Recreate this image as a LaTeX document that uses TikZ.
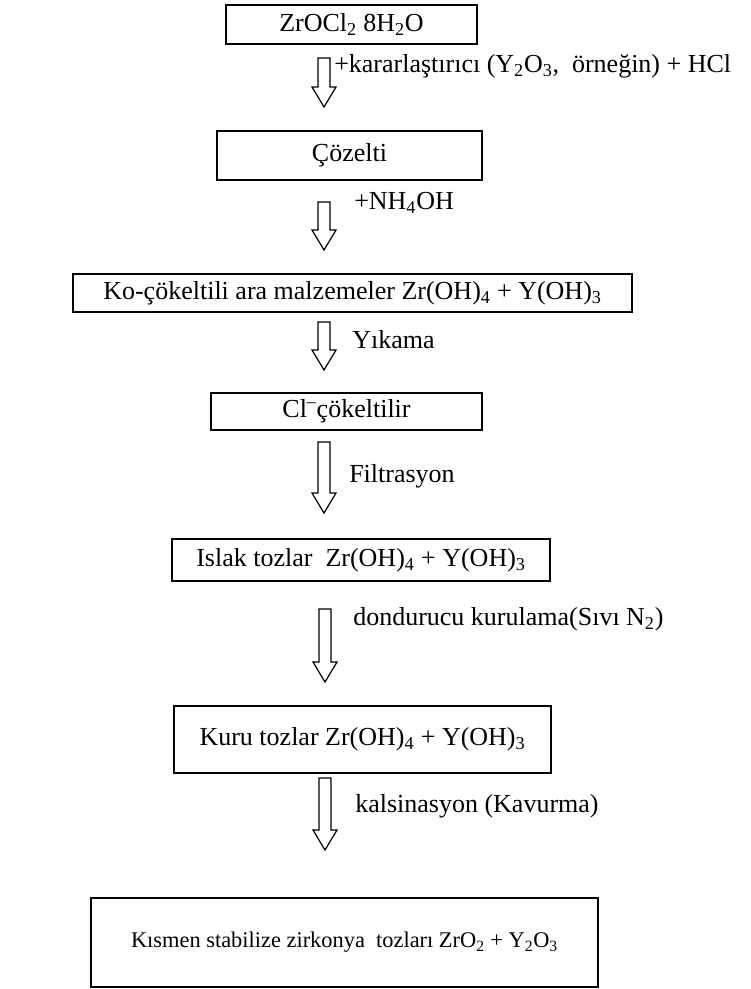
\documentclass[tikz,border=0pt]{standalone}
\usepackage{fontspec}
\setmainfont{Liberation Serif}
\usetikzlibrary{calc}

% hollow block arrow from the top of its shaft (#1) down to its tip (#2)
\newcommand{\flowarrow}[2]{%
  \draw[hollowarrow]
    ($(#1)+(-6,0)$) -- ($(#2)+(-6,-20)$) -- ($(#2)+(-12,-20)$) -- (#2)
    -- ($(#2)+(12,-20)$) -- ($(#2)+(6,-20)$) -- ($(#1)+(6,0)$) -- cycle;}

\begin{document}
\begin{tikzpicture}[x=0.75pt, y=-0.75pt,
  stage/.style={draw, line width=1.5pt, inner sep=0pt, align=center,
    font=\fontsize{19.5}{22}\selectfont},
  steplabel/.style={anchor=west, inner sep=0pt,
    font=\fontsize{19.5}{22}\selectfont},
  hollowarrow/.style={draw, line width=0.9pt, line join=miter, fill=white}]

\useasboundingbox (0,0) rectangle (750,989);

% process stages
\node[stage, minimum width=188.25pt, minimum height=29.25pt] (b1) at (351.5,24.5)
  {ZrOCl\textsubscript{2} 8H\textsubscript{2}O};
\node[stage, minimum width=198.75pt, minimum height=36.75pt] (b2) at (349.5,155.5)
  {Çözelti};
\node[stage, minimum width=419.25pt, minimum height=28.5pt] (b3) at (352.5,293)
  {Ko-çökeltili ara malzemeler Zr(OH)\textsubscript{4} + Y(OH)\textsubscript{3}};
\node[stage, minimum width=203.25pt, minimum height=27.75pt] (b4) at (346.5,411.5)
  {Cl\textsuperscript{–}çökeltilir};
\node[stage, minimum width=283.5pt, minimum height=31.5pt] (b5) at (361,560)
  {Islak tozlar\ \ Zr(OH)\textsubscript{4} + Y(OH)\textsubscript{3}};
\node[stage, minimum width=282.75pt, minimum height=50.25pt] (b6) at (362.5,739.5)
  {Kuru tozlar Zr(OH)\textsubscript{4} + Y(OH)\textsubscript{3}};
\node[stage, minimum width=380.25pt, minimum height=66.75pt,
  font=\fontsize{16.8}{19}\selectfont] (b7) at (344.5,942.5)
  {Kısmen stabilize zirkonya\ \ tozları ZrO\textsubscript{2} + Y\textsubscript{2}O\textsubscript{3}};

% arrow end points
\coordinate (a1s) at (324,58);  \coordinate (a1e) at (324,107);
\coordinate (a2s) at (324,202); \coordinate (a2e) at (324,250);
\coordinate (a3s) at (324,322); \coordinate (a3e) at (324,370);
\coordinate (a4s) at (324,442); \coordinate (a4e) at (324,513);
\coordinate (a5s) at (325,609); \coordinate (a5e) at (325,682);
\coordinate (a6s) at (325,778); \coordinate (a6e) at (325,850);

\flowarrow{a1s}{a1e}
\flowarrow{a2s}{a2e}
\flowarrow{a3s}{a3e}
\flowarrow{a4s}{a4e}
\flowarrow{a5s}{a5e}
\flowarrow{a6s}{a6e}

% step labels
\node[steplabel] (l1) at (334,66)
  {+kararlaştırıcı (Y\textsubscript{2}O\textsubscript{3},\ \ örneğin) + HCl};
\node[steplabel] (l2) at (354,203) {+NH\textsubscript{4}OH};
\node[steplabel] (l3) at (352,340) {Yıkama};
\node[steplabel] (l4) at (349,476) {Filtrasyon};
\node[steplabel] (l5) at (353,619) {dondurucu kurulama(Sıvı N\textsubscript{2})};
\node[steplabel] (l6) at (355,806) {kalsinasyon (Kavurma)};

\end{tikzpicture}
\end{document}
